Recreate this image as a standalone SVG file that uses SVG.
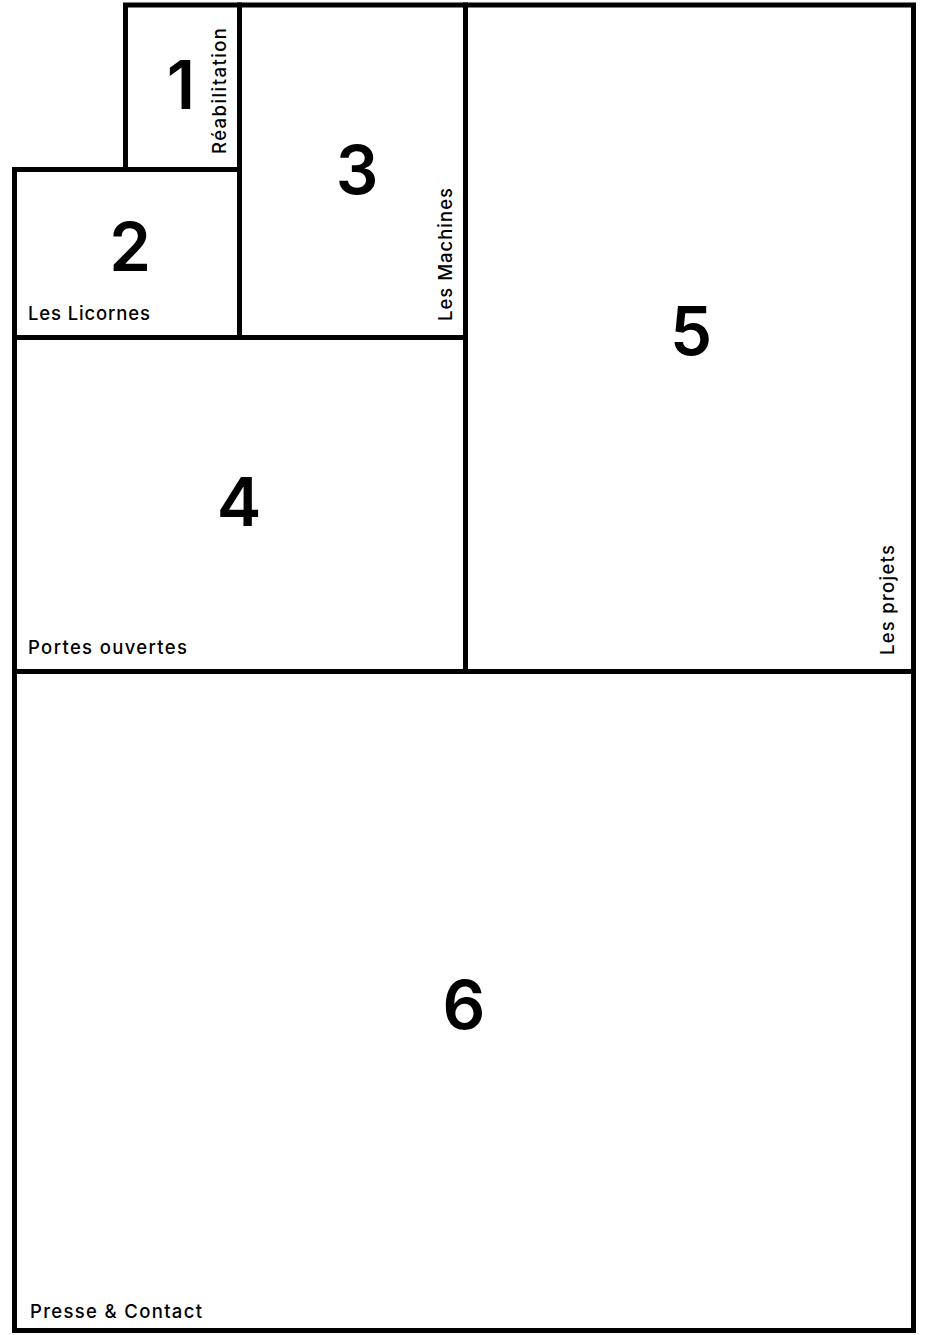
<svg xmlns="http://www.w3.org/2000/svg" width="930" height="1335" viewBox="0 0 930 1335">
<style>
.box{fill:none;stroke:#000;stroke-width:5;stroke-linejoin:miter}
.num{font-family:Inter,"Liberation Sans",sans-serif;font-size:67px;font-weight:600;fill:#000;text-anchor:middle}
.lbl{font-family:Inter,"Liberation Sans",sans-serif;font-size:18.5px;font-weight:500;fill:#000}
</style>
<rect width="930" height="1335" fill="#fff"/>
<g id="node6">
<rect class="box" x="14.5" y="671.5" width="899" height="659"/>
<text class="num" x="464" y="1029">6</text>
<text class="lbl" x="30" y="1318" textLength="172">Presse &amp; Contact</text>
</g>
<g id="node5">
<rect class="box" x="465.5" y="5" width="448" height="666.5"/>
<text class="num" x="691" y="355">5</text>
<text class="lbl" transform="translate(894,655) rotate(-90)" x="0" y="0" textLength="110">Les projets</text>
</g>
<g id="node4">
<rect class="box" x="14.5" y="337.5" width="451" height="334"/>
<text class="num" x="239" y="526">4</text>
<text class="lbl" x="28" y="654" textLength="159">Portes ouvertes</text>
</g>
<g id="node3">
<rect class="box" x="239.5" y="5" width="226" height="332.5"/>
<text class="num" x="357" y="194">3</text>
<text class="lbl" transform="translate(452,321) rotate(-90)" x="0" y="0" textLength="133">Les Machines</text>
</g>
<g id="node2">
<rect class="box" x="14.5" y="169.5" width="225" height="168"/>
<text class="num" x="130" y="271">2</text>
<text class="lbl" x="28" y="320" textLength="122">Les Licornes</text>
</g>
<g id="node1">
<rect class="box" x="125.5" y="5" width="114" height="164.5"/>
<text class="num" x="181" y="109">1</text>
<text class="lbl" transform="translate(226,154) rotate(-90)" x="0" y="0" textLength="126">Réabilitation</text>
</g>
<g id="connectors"></g>
</svg>
